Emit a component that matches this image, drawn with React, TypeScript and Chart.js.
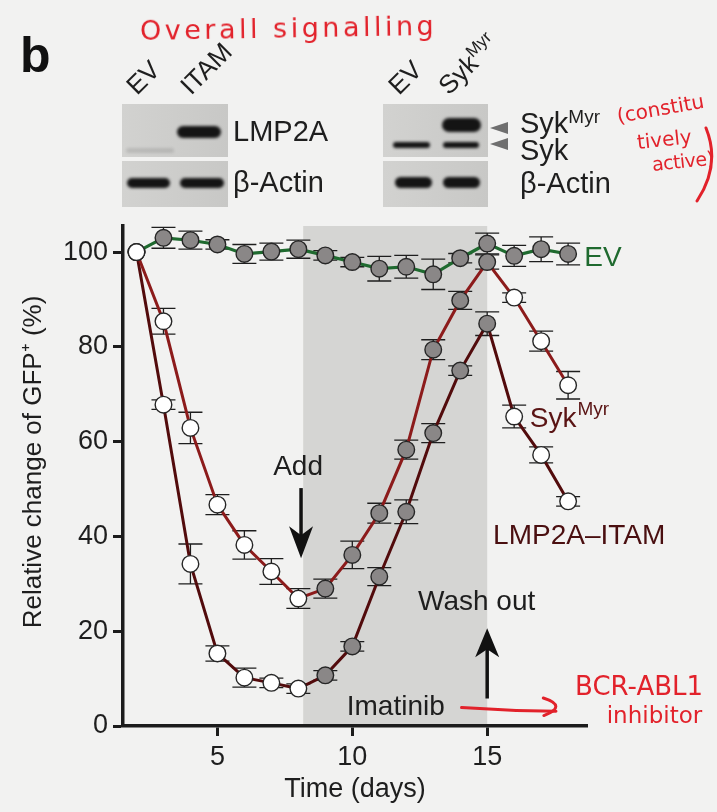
import React, { useEffect, useRef } from 'react';
import { Chart, registerables } from 'chart.js';

Chart.register(...registerables);

// ---------------- data ----------------
const days = [2, 3, 4, 5, 6, 7, 8, 9, 10, 11, 12, 13, 14, 15, 16, 17, 18];

const evValues = [100, 103.0, 102.5, 101.6, 99.6, 100.1, 100.6, 99.3, 97.9, 96.5, 96.9, 95.3, 98.7, 101.8, 99.2, 100.6, 99.6];
const evErrors = [0, 2.2, 1.9, 1.0, 2.0, 1.8, 1.9, 1.0, 1.0, 2.6, 2.4, 3.2, 1.0, 2.2, 2.2, 2.6, 2.3];
const evFilled = [false, true, true, true, true, true, true, true, true, true, true, true, true, true, true, true, true];

const sykValues = [100, 85.4, 62.9, 46.7, 38.2, 32.6, 26.9, 29.0, 36.1, 44.9, 58.3, 79.4, 89.8, 97.9, 90.4, 81.2, 71.9];
const sykErrors = [0, 2.7, 3.3, 2.1, 3.0, 2.7, 2.1, 2.0, 2.9, 2.1, 2.0, 2.1, 1.9, 1.5, 1.0, 2.1, 2.9];
const sykFilled = [false, false, false, false, false, false, false, true, true, true, true, true, true, true, false, false, false];

const lmpValues = [100, 67.8, 34.2, 15.3, 10.2, 9.1, 7.9, 10.7, 16.8, 31.5, 45.2, 61.8, 75.0, 84.9, 65.3, 57.2, 47.4];
const lmpErrors = [0, 1.0, 4.2, 1.6, 2.0, 1.0, 1.0, 1.0, 1.0, 1.9, 2.5, 2.0, 1.0, 2.5, 2.4, 1.7, 1.0];
const lmpFilled = [false, false, false, false, false, false, false, true, true, true, true, true, true, true, false, false, false];

const xTickValues = [5, 10, 15];
const yTickValues = [0, 20, 40, 60, 80, 100];
const imatinibStart = 8.18;
const imatinibEnd = 15;

const seriesErrors = [evErrors, sykErrors, lmpErrors];

// ---------------- styles ----------------
const FONT = "'Liberation Sans', Arial, Helvetica, sans-serif";
const HAND = "'DejaVu Sans', sans-serif";
const BG = '#f2f2f1';
const SHADE = '#d5d5d3';
const AXIS = '#1c1c1c';
const INK = '#1e1e1e';
const EV_GREEN = '#1f6a2f';
const SYK_RED = '#8c1b1b';
const LMP_MAROON = '#520b0c';
const LABEL_MAROON = '#5a1414';
const RED = '#e2222b';
const OPEN = '#ffffff';
const FILLED = '#8a8787';

function drawVArrow(ctx: CanvasRenderingContext2D, x: number, yFrom: number, yTo: number, headLen: number, headW: number) {
  const dir = Math.sign(yTo - yFrom);
  ctx.beginPath();
  ctx.moveTo(x, yFrom);
  ctx.lineTo(x, yTo - dir * headLen * 0.6);
  ctx.stroke();
  ctx.beginPath();
  ctx.moveTo(x, yTo);
  ctx.lineTo(x - headW / 2, yTo - dir * headLen);
  ctx.lineTo(x, yTo - dir * headLen * 0.72);
  ctx.lineTo(x + headW / 2, yTo - dir * headLen);
  ctx.closePath();
  ctx.fill();
}

const figurePlugin = {
  id: 'figureExtras',
  beforeDraw(chart: any) {
    const { ctx, chartArea, scales } = chart;
    const x = scales.x, y = scales.y;
    const x0 = x.getPixelForValue(imatinibStart);
    const x1 = x.getPixelForValue(imatinibEnd);
    ctx.save();
    ctx.fillStyle = SHADE;
    ctx.fillRect(x0, chartArea.top, x1 - x0, y.getPixelForValue(0) - chartArea.top);
    ctx.restore();
  },
  beforeDatasetsDraw(chart: any) {
    const { ctx, scales } = chart;
    const x = scales.x, y = scales.y;
    const cap = 12;
    ctx.save();
    ctx.strokeStyle = INK;
    ctx.lineWidth = 1.3;
    chart.data.datasets.forEach((ds: any, di: number) => {
      const errs = seriesErrors[di];
      ds.data.forEach((p: any, i: number) => {
        const e = errs[i];
        if (!e) return;
        const px = x.getPixelForValue(p.x);
        const top = y.getPixelForValue(p.y + e);
        const bot = y.getPixelForValue(p.y - e);
        ctx.beginPath();
        ctx.moveTo(px, top); ctx.lineTo(px, bot);
        ctx.moveTo(px - cap, top); ctx.lineTo(px + cap, top);
        ctx.moveTo(px - cap, bot); ctx.lineTo(px + cap, bot);
        ctx.stroke();
      });
    });
    ctx.restore();
  },
  afterDraw(chart: any) {
    const { ctx, chartArea, scales } = chart;
    const x = scales.x, y = scales.y;
    const X = (v: number) => x.getPixelForValue(v);
    const Y = (v: number) => y.getPixelForValue(v);
    ctx.save();
    ctx.textBaseline = 'middle';

    // y axis title
    ctx.save();
    ctx.translate(scales.y.left + 34, (chartArea.top + chartArea.bottom) / 2 - 14);
    ctx.rotate(-Math.PI / 2);
    ctx.textAlign = 'center';
    ctx.fillStyle = INK;
    ctx.font = `26px ${FONT}`;
    ctx.fillText('Relative change of GFP⁺ (%)', 0, 0);
    ctx.restore();

    // series labels
    ctx.textAlign = 'left';
    ctx.font = `28px ${FONT}`;
    ctx.fillStyle = EV_GREEN;
    ctx.fillText('EV', X(18.6), Y(98.7));

    ctx.fillStyle = LABEL_MAROON;
    ctx.fillText('Syk', X(16.58), Y(64.8));
    const sykW = ctx.measureText('Syk').width;
    ctx.font = `19px ${FONT}`;
    ctx.fillText('Myr', X(16.58) + sykW + 1, Y(64.8) - 9);

    ctx.font = `28px ${FONT}`;
    ctx.fillStyle = '#4a0f10';
    ctx.fillText('LMP2A–ITAM', X(15.22), Y(40.1));

    // treatment annotations
    ctx.fillStyle = INK;
    ctx.textAlign = 'center';
    ctx.fillText('Add', X(7.99), Y(54.5));
    ctx.fillText('Wash out', X(14.61), Y(26.0));
    ctx.fillText('Imatinib', X(11.61), Y(4.0));

    ctx.strokeStyle = '#111';
    ctx.fillStyle = '#111';
    ctx.lineWidth = 3.5;
    drawVArrow(ctx, X(8.1), Y(50.2), Y(35.4), 32, 24);
    drawVArrow(ctx, X(15), Y(5.8), Y(20.6), 29, 24);

    // handwritten red notes
    ctx.strokeStyle = RED;
    ctx.lineWidth = 3;
    ctx.lineCap = 'round';
    ctx.beginPath();
    ctx.moveTo(X(14.05), Y(3.9));
    ctx.quadraticCurveTo(X(15.8), Y(3.2), X(17.55), Y(3.1));
    ctx.stroke();
    ctx.beginPath();
    ctx.moveTo(X(17.08), Y(5.9));
    ctx.quadraticCurveTo(X(18.0), Y(4.2), X(17.1), Y(2.2));
    ctx.stroke();

    ctx.fillStyle = RED;
    ctx.textAlign = 'center';
    ctx.font = `26px ${HAND}`;
    ctx.fillText('BCR-ABL1', X(20.63), Y(7.9));
    ctx.font = `23px ${HAND}`;
    ctx.fillText('inhibitor', X(21.2), Y(1.8));
    ctx.restore();
  },
};

const common = {
  borderWidth: 3.2,
  pointRadius: 8.3,
  pointHoverRadius: 8.3,
  pointBorderWidth: 1.4,
  pointBorderColor: '#262626',
  tension: 0,
  clip: false as any,
};

function buildConfig(): any {
  return {
    type: 'line',
    data: {
      datasets: [
        {
          label: 'EV',
          data: days.map((d, i) => ({ x: d, y: evValues[i] })),
          borderColor: EV_GREEN,
          pointBackgroundColor: evFilled.map(f => (f ? FILLED : OPEN)),
          ...common,
        },
        {
          label: 'SykMyr',
          data: days.map((d, i) => ({ x: d, y: sykValues[i] })),
          borderColor: SYK_RED,
          pointBackgroundColor: sykFilled.map(f => (f ? FILLED : OPEN)),
          ...common,
          borderWidth: 3,
        },
        {
          label: 'LMP2A–ITAM',
          data: days.map((d, i) => ({ x: d, y: lmpValues[i] })),
          borderColor: LMP_MAROON,
          pointBackgroundColor: lmpFilled.map(f => (f ? FILLED : OPEN)),
          ...common,
          borderWidth: 3,
        },
      ],
    },
    options: {
      animation: false,
      responsive: false,
      events: [],
      layout: { padding: { left: 0, top: 226, right: 130, bottom: 0 } },
      plugins: { legend: { display: false }, tooltip: { enabled: false } },
      scales: {
        x: {
          type: 'linear',
          min: 1.5,
          max: 18.7,
          afterBuildTicks: (s: any) => { s.ticks = xTickValues.map(v => ({ value: v })); },
          afterFit: (s: any) => { s.height = 86; },
          grid: { display: true, drawOnChartArea: false, drawTicks: true, tickLength: 10, tickWidth: 3, tickColor: AXIS },
          border: { display: true, color: AXIS, width: 3.5 },
          ticks: { color: INK, font: { size: 27, family: FONT }, padding: 5, maxRotation: 0, autoSkip: false },
          title: { display: true, text: 'Time (days)', color: INK, font: { size: 27, family: FONT }, padding: { top: 0, bottom: 6 } },
        },
        y: {
          type: 'linear',
          min: 0,
          max: 105.5,
          afterBuildTicks: (s: any) => { s.ticks = yTickValues.map(v => ({ value: v })); },
          afterFit: (s: any) => { s.width = 123; },
          grid: { display: true, drawOnChartArea: false, drawTicks: true, tickLength: 10, tickWidth: 3, tickColor: AXIS },
          border: { display: true, color: AXIS, width: 3.5 },
          ticks: { color: INK, font: { size: 27, family: FONT }, padding: 5, autoSkip: false },
        },
      },
    },
    plugins: [figurePlugin],
  };
}

// ---------------- HTML helpers for the blot header ----------------
function Txt(props: { x: number; cy: number; size: number; color?: string; font?: string; rot?: number; ls?: number; bold?: boolean; children: React.ReactNode }) {
  const { x, cy, size, color = INK, font = FONT, rot = 0, ls = 0, bold = false, children } = props;
  return (
    <div
      style={{
        position: 'absolute',
        left: x,
        top: cy - 0.4885 * size,
        fontFamily: font,
        fontSize: size,
        fontWeight: bold ? 'bold' : 'normal',
        lineHeight: `${size}px`,
        color,
        whiteSpace: 'nowrap',
        letterSpacing: ls,
        transform: rot ? `rotate(${rot}deg)` : undefined,
        transformOrigin: '0 50%',
      }}
    >
      {children}
    </div>
  );
}

function Lane(props: { x: number; y: number; size: number; children: React.ReactNode }) {
  const { x, y, size, children } = props;
  const base = 0.8465 * size;
  return (
    <div
      style={{
        position: 'absolute',
        left: x,
        top: y - base,
        fontFamily: FONT,
        fontSize: size,
        lineHeight: `${size}px`,
        color: INK,
        whiteSpace: 'nowrap',
        transform: 'rotate(-45deg)',
        transformOrigin: `0px ${base}px`,
      }}
    >
      {children}
    </div>
  );
}

function Panel(props: { x: number; y: number; w: number; h: number }) {
  return (
    <div
      style={{
        position: 'absolute',
        left: props.x,
        top: props.y,
        width: props.w,
        height: props.h,
        background: 'linear-gradient(90deg, #d2d2d0, #c8c8c6)',
      }}
    />
  );
}

function Band(props: { x: number; y: number; w: number; h: number; op?: number }) {
  return (
    <div
      style={{
        position: 'absolute',
        left: props.x,
        top: props.y,
        width: props.w,
        height: props.h,
        background: '#141414',
        borderRadius: props.h / 2,
        filter: 'blur(1.6px)',
        opacity: props.op ?? 1,
      }}
    />
  );
}

export default function App() {
  const ref = useRef<HTMLCanvasElement>(null);
  useEffect(() => {
    if (!ref.current) return;
    const chart = new Chart(ref.current, buildConfig());
    return () => chart.destroy();
  }, []);

  return (
    <div style={{ position: 'absolute', left: 0, top: 0, width: 717, height: 812, background: BG, overflow: 'hidden' }}>
      <canvas ref={ref} width={717} height={812} style={{ position: 'absolute', left: 0, top: 0, width: 717, height: 812 }} />

      {/* panel letter */}
      <div style={{ position: 'absolute', left: 20, top: 72 - 0.8465 * 50, fontFamily: FONT, fontWeight: 'bold', fontSize: 50, lineHeight: '50px', color: '#111' }}>b</div>

      {/* handwritten heading */}
      <Txt x={140} cy={30} size={27} color={RED} font={HAND} ls={3.5} rot={-1}>Overall signalling</Txt>

      {/* left blot */}
      <Lane x={137} y={96} size={26}>EV</Lane>
      <Lane x={191} y={96} size={26}>ITAM</Lane>
      <Panel x={122} y={104} w={106} h={53} />
      <Panel x={122} y={161} w={106} h={46} />
      <Band x={126} y={148} w={48} h={5} op={0.12} />
      <Band x={177} y={126} w={44} h={12} />
      <Band x={127} y={178} w={43} h={10} />
      <Band x={180} y={178} w={44} h={10} />
      <Txt x={233} cy={131} size={29}>LMP2A</Txt>
      <Txt x={233} cy={182} size={29}>β-Actin</Txt>

      {/* right blot */}
      <Lane x={399} y={96} size={26}>EV</Lane>
      <Lane x={449} y={96} size={26}>
        Syk<span style={{ fontSize: 17, position: 'relative', top: -10 }}>Myr</span>
      </Lane>
      <Panel x={383} y={104} w={105} h={53} />
      <Panel x={383} y={161} w={105} h={46} />
      <Band x={442} y={118} w={39} h={14} />
      <Band x={393} y={142} w={37} h={6} />
      <Band x={443} y={142} w={36} h={6} />
      <Band x={395} y={177} w={37} h={11} />
      <Band x={443} y={177} w={37} h={11} />
      <svg width={717} height={220} style={{ position: 'absolute', left: 0, top: 0 }}>
        <polygon points="490,128 508,122 508,134" fill="#6f6f6f" />
        <polygon points="490,144 508,138 508,150" fill="#6f6f6f" />
        <path d="M 706 128 Q 721 165 697 201" stroke={RED} strokeWidth={3} fill="none" strokeLinecap="round" />
      </svg>
      <Txt x={520} cy={123} size={29}>
        Syk<span style={{ fontSize: 19, position: 'relative', top: -10 }}>Myr</span>
      </Txt>
      <Txt x={520} cy={150} size={29}>Syk</Txt>
      <Txt x={520} cy={183} size={29}>β-Actin</Txt>

      {/* handwritten side note */}
      <Txt x={617} cy={116} size={20} color={RED} font={HAND} rot={-10}>(constitu</Txt>
      <Txt x={637} cy={142} size={20} color={RED} font={HAND} rot={-6}>tively</Txt>
      <Txt x={652} cy={164} size={19} color={RED} font={HAND} rot={-6} ls={-0.5}>active)</Txt>
    </div>
  );
}
